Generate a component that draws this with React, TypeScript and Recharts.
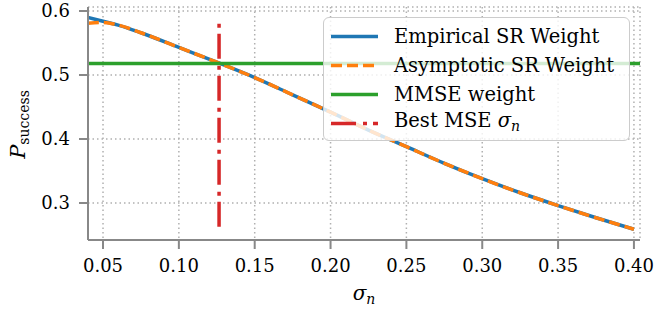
import React from "react";
import { LineChart, Line, XAxis, YAxis, CartesianGrid } from "recharts";

// sigma_n values (x)
const sigma = [0.04, 0.05, 0.06, 0.075, 0.1, 0.125, 0.15, 0.175, 0.2, 0.225, 0.25, 0.275, 0.3, 0.325, 0.35, 0.375, 0.4];
// Empirical SR Weight
const empirical = [0.59, 0.584, 0.578, 0.566, 0.543, 0.52, 0.496, 0.469, 0.442, 0.414, 0.388, 0.362, 0.338, 0.316, 0.296, 0.277, 0.259];
// Asymptotic SR Weight
const asymptotic = [0.581, 0.582, 0.578, 0.566, 0.543, 0.52, 0.496, 0.469, 0.442, 0.414, 0.388, 0.362, 0.338, 0.316, 0.296, 0.277, 0.259];
// MMSE weight (constant)
const mmseValue = 0.518;
const xDomain = [0.0401, 0.404];
// Best MSE sigma_n vertical segment (top to bottom)
const bestSigma = 0.1265;
const bestRange = [0.58, 0.259];

const xTicks = [0.05, 0.1, 0.15, 0.2, 0.25, 0.3, 0.35, 0.4];
const yTicks = [0.3, 0.4, 0.5, 0.6];

const data = sigma.map((x, i) => ({ x, emp: empirical[i], asy: asymptotic[i] }));
const mmseData = xDomain.map((x) => ({ x, mmse: mmseValue }));
const bestData = bestRange.map((v) => ({ x: bestSigma, best: v }));

const FONT = "'DejaVu Serif', serif";
const BLUE = "#1f77b4";
const ORANGE = "#ff7f0e";
const GREEN = "#2ca02c";
const RED = "#d62728";
const AXIS = "#888888";

const legendItems = [
  { label: "Empirical SR Weight", color: BLUE, dash: undefined },
  { label: "Asymptotic SR Weight", color: ORANGE, dash: "11 5" },
  { label: "MMSE weight", color: GREEN, dash: undefined },
  { label: "BEST", color: RED, dash: "25 7 4 6" },
];

function LegendBox() {
  return (
    <div
      style={{
        position: "absolute",
        left: 323,
        top: 17,
        width: 305,
        height: 122,
        background: "rgba(255,255,255,0.8)",
        border: "1.5px solid #cccccc",
        borderRadius: 6,
        fontFamily: FONT,
        fontSize: 19.5,
        color: "#000",
      }}
    >
      {legendItems.map((it, i) => (
        <div
          key={i}
          style={{
            position: "absolute",
            left: 0,
            top: 4 + i * 29,
            height: 29,
            display: "flex",
            alignItems: "center",
            whiteSpace: "nowrap",
          }}
        >
          <svg width={70} height={29} style={{ flex: "none" }}>
            <line x1={7} x2={54} y1={14.5} y2={14.5} stroke={it.color} strokeWidth={3.5} strokeDasharray={it.dash} />
          </svg>
          <span style={{ lineHeight: "29px", fontFamily: FONT }}>
            {it.label === "BEST" ? (
              <>
                Best MSE <i>σ</i>
                <sub style={{ fontSize: 14, fontStyle: "italic", verticalAlign: "-4px" }}>n</sub>
              </>
            ) : (
              it.label
            )}
          </span>
        </div>
      ))}
    </div>
  );
}

export default function App() {
  return (
    <div style={{ position: "absolute", left: 0, top: 0, width: 654, height: 309, background: "#fff" }}>
      <LineChart width={654} height={309} data={data} margin={{ top: 7, right: 14, left: 0, bottom: 0 }}>
        <CartesianGrid stroke="#b0b0b0" strokeWidth={1.5} strokeDasharray="1.5 3" />
        <XAxis
          dataKey="x"
          type="number"
          domain={xDomain}
          ticks={xTicks}
          allowDataOverflow
          height={69}
          tickFormatter={(v: number) => v.toFixed(2)}
          tick={{ fill: "#000", fontSize: 18, fontFamily: FONT }}
          tickSize={9}
          tickMargin={10}
          axisLine={{ stroke: AXIS, strokeWidth: 2 }}
          tickLine={{ stroke: AXIS, strokeWidth: 2 }}
          label={{
            content: () => (
              <text x={364} y={300} textAnchor="middle" fontFamily={FONT} fill="#000">
                <tspan fontSize={20} fontStyle="italic">σ</tspan>
                <tspan fontSize={14} fontStyle="italic" dy={4}>n</tspan>
              </text>
            ),
          }}
        />
        <YAxis
          type="number"
          domain={[0.2422, 0.60625]}
          ticks={yTicks}
          allowDataOverflow
          width={88}
          tickFormatter={(v: number) => v.toFixed(1)}
          tick={{ fill: "#000", fontSize: 18, fontFamily: FONT }}
          tickSize={9}
          tickMargin={9}
          axisLine={{ stroke: AXIS, strokeWidth: 2 }}
          tickLine={{ stroke: AXIS, strokeWidth: 2 }}
          label={{
            content: () => (
              <text
                x={25}
                y={124.5}
                transform="rotate(-90, 25, 124.5)"
                textAnchor="middle"
                fontFamily={FONT}
                fill="#000"
              >
                <tspan fontSize={21} fontStyle="italic">P</tspan>
                <tspan fontSize={14} dy={4}>success</tspan>
              </text>
            ),
          }}
        />
        <Line type="monotone" dataKey="emp" stroke={BLUE} strokeWidth={3.5} dot={false} isAnimationActive={false} />
        <Line
          type="monotone"
          dataKey="asy"
          stroke={ORANGE}
          strokeWidth={3.5}
          strokeDasharray="11 5"
          dot={false}
          isAnimationActive={false}
        />
        <Line
          data={bestData}
          type="linear"
          dataKey="best"
          stroke={RED}
          strokeWidth={3.5}
          strokeDasharray="4 6 25 7"
          dot={false}
          isAnimationActive={false}
        />
        <Line
          data={mmseData}
          type="linear"
          dataKey="mmse"
          stroke={GREEN}
          strokeWidth={3.5}
          dot={false}
          isAnimationActive={false}
        />
      </LineChart>
      <LegendBox />
    </div>
  );
}
